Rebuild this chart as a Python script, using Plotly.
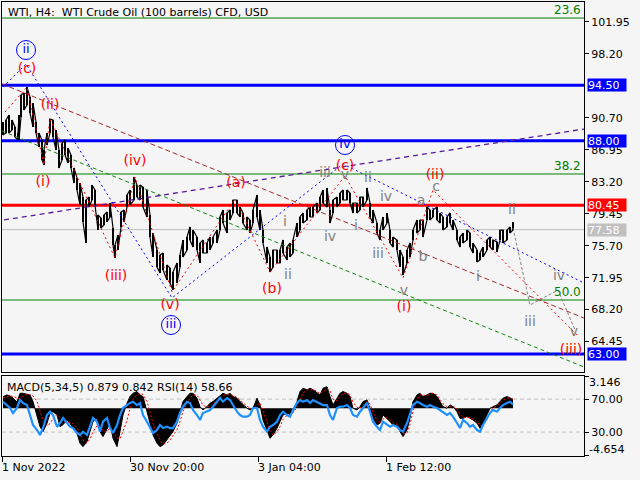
import plotly.graph_objects as go

# ---------------- data ----------------
price_x = [1,4,7,10,13,16,17,19,22,25,28,31,34,37,40,42,45,48,51,54,57,60,63,66,69,72,75,78,81,84,
           87,90,93,96,99,102,105,108,111,113,116,119,122,125,128,132,135,138,141,145,148,151,155,158,161,165,168,171,175,178,
           181,185,188,191,195,198,201,205,208,211,215,218,221,225,228,231,235,238,241,245,248,251,255,258,261,265,268,271,275,278,
           281,285,288,291,295,298,301,305,308,311,315,318,321,325,328,331,335,338,341,345,348,351,355,358,361,365,368,371,375,378,
           381,385,388,391,395,398,401,405,408,411,415,418,421,425,428,431,435,438,441,445,448,451,455,458,461,465,468,471,475,478,
           481,485,488,491,495,498,501,505,508,511]
price_hi = [90.19,90.43,91.01,90.43,89.61,88.90,91.01,93.36,93.59,94.29,93.12,92.42,90.19,88.90,88.08,86.91,88.90,90.54,90.43,89.25,
            86.91,87.73,88.08,87.14,86.32,84.80,83.63,83.04,81.40,81.05,81.40,82.81,82.22,79.29,78.94,79.29,79.64,80.70,77.77,75.78,
            76.95,79.64,79.88,81.64,82.22,83.75,82.81,82.81,82.57,82.22,79.29,77.18,75.19,74.61,74.84,73.43,73.08,72.61,73.67,74.61,
            76.36,76.71,77.89,77.53,76.71,76.01,76.36,76.01,76.71,76.71,77.53,79.06,79.88,79.53,79.88,81.05,81.05,80.23,79.53,79.06,
            78.71,79.88,81.64,79.88,77.53,75.54,74.37,75.19,75.19,75.19,76.36,75.54,76.01,76.36,78.35,79.06,79.53,79.88,80.23,80.23,
            80.70,81.40,82.22,82.46,79.88,81.05,81.40,81.87,82.22,82.22,81.87,80.70,80.70,81.40,81.40,82.46,80.70,79.88,78.35,77.53,
            79.06,79.53,77.53,76.71,76.36,75.19,74.37,75.19,76.01,77.53,78.71,78.71,78.71,80.23,79.88,79.88,80.23,79.53,79.06,79.06,
            79.53,78.71,77.53,76.71,77.18,77.53,77.18,76.01,75.19,74.84,75.54,76.36,76.71,76.36,76.13,77.53,77.53,77.53,77.89,78.47]
price_lo = [88.67,88.90,88.90,89.25,88.43,88.08,88.08,90.78,91.60,92.19,91.25,89.61,88.90,87.26,85.74,85.15,87.50,88.90,88.43,86.91,
            84.80,85.74,86.32,85.39,84.80,83.04,82.22,80.47,78.47,76.01,80.23,81.05,80.47,77.53,77.77,78.12,78.47,79.06,75.78,74.25,
            75.19,77.89,78.47,80.23,80.47,81.05,81.40,81.05,80.23,79.06,76.71,74.37,73.20,72.49,72.85,71.67,71.32,70.50,71.32,73.20,
            74.37,75.19,76.36,75.54,75.19,73.67,74.84,74.84,75.19,76.01,76.01,77.53,78.35,77.18,78.71,79.53,79.53,79.06,78.35,77.53,
            77.18,78.35,79.06,77.53,76.01,73.67,72.61,73.20,73.67,73.67,74.84,74.02,74.37,74.84,76.71,77.53,78.35,78.71,79.06,79.06,
            79.53,79.88,80.70,80.23,78.35,79.53,80.23,80.70,81.05,81.05,80.70,79.53,79.53,79.88,80.23,81.05,79.06,78.35,77.18,76.36,
            77.53,78.35,76.01,75.54,75.19,73.20,72.26,73.67,74.37,76.36,77.18,77.53,76.71,78.71,78.71,79.06,78.71,78.35,77.53,77.89,
            78.35,77.53,76.36,75.54,76.01,76.36,75.54,74.84,73.78,74.02,74.37,75.19,75.54,75.19,74.96,76.36,76.01,76.36,77.18,77.53]

ind_x = [1,5,8,11,15,18,21,25,28,31,35,38,41,45,48,51,55,58,61,65,68,71,75,78,81,85,88,91,95,98,
         101,105,108,111,115,118,121,125,128,131,135,138,141,145,148,151,155,158,161,165,168,171,175,178,181,185,188,191,195,198,
         201,205,208,211,215,218,221,225,228,231,235,238,241,245,248,251,255,258,261,265,268,271,275,278,281,285,288,291,295,298,
         301,305,308,311,315,318,321,325,328,331,335,338,341,345,348,351,355,358,361,365,368,371,375,378,381,385,388,391,395,398,
         401,405,408,411,415,418,421,425,428,431,435,438,441,445,448,451,455,458,461,465,468,471,475,478,481,485,488,491,495,498,
         501,505,508,511]
macd_hist = [1.13,1.3,1.2,1.0,0.6,1.46,1.46,1.4,1.3,0.65,
             -0.65,-1.8,-2.28,-1.46,-0.5,-0.33,-0.65,-1.8,-1.6,-1.14,
             -1.46,-1.95,-2.44,-3.41,-3.74,-3.25,-2.28,-1.3,-0.98,-2.28,
             -2.76,-1.95,-1.46,-2.93,-3.74,-2.28,-0.65,0.49,1.14,1.46,
             1.63,1.3,1.14,-0.33,-1.63,-2.6,-3.41,-3.74,-3.58,-3.09,
             -2.76,-2.28,-1.46,-0.33,0.65,1.14,1.46,1.46,0.98,0.16,
             -0.16,0.16,0.49,0.65,0.98,1.3,1.46,1.3,1.46,1.14,
             0.98,0.65,0.33,0.0,-0.16,0.0,0.98,0.33,-1.14,-2.28,
             -2.93,-2.6,-1.95,-1.3,-0.65,-0.5,-0.5,-0.33,0.65,1.63,
             1.95,1.8,1.95,1.8,1.46,
             1.3,1.95,2.1,1.14,0.33,0.98,1.46,1.63,1.46,1.14,
             0.0,-0.16,0.16,0.65,0.81,0.0,-0.98,-1.63,-1.46,-0.65,
             -0.98,-1.3,-1.63,-1.63,-2.28,-2.76,-2.11,-0.98,0.65,1.3,
             1.46,1.14,1.3,1.46,1.46,1.14,0.65,0.16,0.0,0.33,
             0.16,-0.33,-0.98,-0.98,-0.81,-0.98,-1.14,-1.46,-1.95,-1.46,
             -0.65,0.0,0.16,0.33,0.65,0.98,1.14,0.98,0.879]
macd_signal = [1.0,1.1,1.2,1.15,1.0,0.9,1.2,1.35,1.35,1.2,
               0.7,-0.2,-1.2,-1.7,-1.5,-1.0,-0.6,-0.9,-1.3,-1.4,
               -1.35,-1.5,-1.9,-2.5,-3.1,-3.4,-3.0,-2.3,-1.7,-1.8,
               -2.2,-2.3,-1.9,-2.2,-2.9,-3.0,-2.3,-1.2,0.0,0.9,
               1.3,1.45,1.35,0.7,-0.4,-1.5,-2.4,-3.1,-3.5,-3.4,
               -3.1,-2.7,-2.1,-1.3,-0.3,0.5,1.0,1.3,1.3,0.8,
               0.3,0.1,0.2,0.45,0.7,1.0,1.25,1.35,1.35,1.25,
               1.05,0.8,0.5,0.2,0.0,-0.05,0.3,0.5,-0.2,-1.3,
               -2.2,-2.6,-2.3,-1.8,-1.1,-0.7,-0.55,-0.45,0.1,0.9,
               1.5,1.75,1.85,1.85,1.65,
               1.4,1.6,1.95,1.7,0.9,0.7,1.1,1.45,1.5,1.3,
               0.6,0.1,0.0,0.35,0.65,0.45,-0.4,-1.2,-1.45,-1.05,
               -0.9,-1.1,-1.4,-1.55,-1.9,-2.45,-2.4,-1.6,-0.3,0.8,
               1.3,1.3,1.25,1.35,1.45,1.3,0.9,0.45,0.15,0.15,
               0.2,-0.05,-0.6,-0.9,-0.9,-0.9,-1.05,-1.3,-1.7,-1.65,
               -1.05,-0.35,0.05,0.25,0.5,0.8,1.0,1.0,0.842]
rsi = [66.8,62.8,59.2,53.1,59.2,68.9,65.3,62.8,50.7,38.6,
       32.5,26.5,34.9,50.7,54.7,50.7,36.5,41.0,47.1,41.0,
       36.5,34.9,28.9,26.5,30.5,26.5,36.5,47.1,42.6,30.5,
       42.6,47.1,34.9,28.9,38.6,50.7,59.2,62.8,65.3,66.8,
       62.8,65.3,50.7,42.6,36.5,28.9,32.5,38.6,34.9,36.5,
       34.9,34.9,42.6,53.1,60.8,66.8,65.3,56.8,50.7,44.7,
       53.1,54.7,56.8,60.8,66.8,71.3,66.8,71.3,68.9,62.8,
       54.7,50.7,48.7,48.7,50.7,59.2,59.2,44.7,36.5,30.5,
       36.5,38.6,42.6,50.7,54.7,50.7,48.7,56.8,65.3,68.9,
       66.8,68.9,65.3,68.9,66.8,
       65.3,62.8,62.8,50.7,44.7,59.2,60.8,60.8,62.8,59.2,
       50.7,48.7,54.7,59.2,65.3,54.7,42.6,36.5,32.5,42.6,
       38.6,36.5,38.6,36.5,32.5,30.5,41.0,50.7,62.8,66.8,
       65.3,62.8,60.8,62.8,60.8,59.2,56.8,54.7,50.7,53.1,
       48.7,41.0,34.9,44.7,41.0,36.5,38.6,32.5,30.5,38.6,
       47.1,53.1,56.8,54.7,59.2,62.8,65.3,66.8,63.5]

date_ticks = [0, 128, 256, 384]
date_labels = ["1 Nov 2022", "30 Nov 20:00", "3 Jan 04:00", "1 Feb 12:00"]
price_ticks = [101.95, 98.20, 90.70, 86.95, 83.20, 79.45, 75.70, 71.95, 68.20, 64.45]
blue_levels = [94.50, 88.00, 63.00]
red_levels = [80.45]
last_price = 77.58
fib_levels = [102.38, 84.10, 69.33]
fib_names = ["23.6", "38.2", "50.0"]

# wave drawings (bar index, price)
blue_wave_x = [1, 24, 170, 341, 582]
blue_wave_y = [94.29, 96.99, 69.57, 85.27, 71.32]
red_wave_x = [3, 25, 42, 48, 113, 133, 170, 233, 268, 343, 401, 431, 575]
red_wave_y = [91.36, 94.29, 85.15, 90.54, 74.25, 83.75, 70.27, 81.17, 72.61, 83.87, 71.91, 82.22, 65.23]
gray_wave_x = [511, 528, 556, 573]
gray_wave_y = [77.77, 68.74, 70.50, 65.81]
brown_line_x = [0, 582]
brown_line_y = [94.65, 67.22]
green_line_x = [0, 582]
green_line_y = [89.14, 61.48]
purple_line_x = [2, 582]
purple_line_y = [78.71, 89.37]

circle_labels = [("ii", 24, 98.63), ("iii", 169, 66.40), ("iv", 343, 87.50)]
red_labels = [("(c)", 25, 96.40), ("(ii)", 48, 92.18), ("(i)", 41, 83.16), ("(iv)", 133, 85.62),
              ("(iii)", 114, 72.14), ("(v)", 168, 68.63), ("(a)", 234, 82.93), ("(b)", 270, 70.62),
              ("(c)", 343, 85.03), ("(i)", 402, 68.51), ("(ii)", 433, 83.98), ("(iii)", 569, 63.47)]
gray_labels = [("i", 283, 78.47), ("ii", 286, 72.26), ("iii", 323, 84.21), ("v", 343, 83.98),
               ("ii", 366, 83.63), ("iv", 328, 76.60), ("i", 354, 77.89), ("iv", 384, 81.29),
               ("iii", 376, 74.72), ("v", 402, 70.27), ("a", 419, 80.82), ("b", 421, 74.37),
               ("c", 434, 82.57), ("ii", 510, 79.88), ("i", 476, 71.91), ("iv", 557, 72.14),
               ("iii", 528, 66.64), ("v", 572, 65.47)]

FONT = "DejaVu Sans"
BG = "#f5f5f5"

fig = go.Figure()

# price bars (high-low range per sample) plus a jagged path through the same highs and lows
fig.add_trace(go.Bar(x=price_x, y=[h - l for h, l in zip(price_hi, price_lo)], base=price_lo,
                     width=1.8, marker=dict(color="black", line=dict(width=0)),
                     xaxis="x", yaxis="y", hoverinfo="skip"))
path_x, path_y = [], []
for i, (xv, h, l) in enumerate(zip(price_x, price_hi, price_lo)):
    path_x += [xv, xv]
    path_y += ([h, l] if i % 2 == 0 else [l, h])
fig.add_trace(go.Scatter(x=path_x, y=path_y, mode="lines", line=dict(color="black", width=1.2),
                         xaxis="x", yaxis="y", hoverinfo="skip"))

def line(xs, ys, color, dash, width=1):
    fig.add_trace(go.Scatter(x=xs, y=ys, mode="lines", line=dict(color=color, dash=dash, width=width),
                             xaxis="x", yaxis="y", hoverinfo="skip", cliponaxis=True))

line(green_line_x, green_line_y, "#118811", "4px,3px")
line(brown_line_x, brown_line_y, "#a3282a", "5px,3px")
line(purple_line_x, purple_line_y, "#5a1a9a", "5px,4px", 1.3)
line(blue_wave_x, blue_wave_y, "#0000ff", "2px,3px")
line(red_wave_x, red_wave_y, "#ff0000", "2px,3px")
line(gray_wave_x, gray_wave_y, "#808080", "3px,2px")

# labels
fig.add_trace(go.Scatter(x=[c[1] for c in circle_labels], y=[c[2] for c in circle_labels],
                         text=[c[0] for c in circle_labels], mode="markers+text",
                         marker=dict(symbol="circle-open", size=19, color="#0000ff", line=dict(width=1, color="#0000ff")),
                         textfont=dict(family=FONT, size=13, color="#0000ff"), textposition="middle center",
                         xaxis="x", yaxis="y", hoverinfo="skip"))
fig.add_trace(go.Scatter(x=[c[1] for c in red_labels], y=[c[2] for c in red_labels],
                         text=[c[0] for c in red_labels], mode="text",
                         textfont=dict(family=FONT, size=14, color="#ff0000"), textposition="middle center",
                         xaxis="x", yaxis="y", hoverinfo="skip"))
fig.add_trace(go.Scatter(x=[c[1] for c in gray_labels], y=[c[2] for c in gray_labels],
                         text=[c[0] for c in gray_labels], mode="text",
                         textfont=dict(family=FONT, size=14, color="#7f7f7f"), textposition="middle center",
                         xaxis="x", yaxis="y", hoverinfo="skip"))

# indicator window
fig.add_trace(go.Scatter(x=ind_x, y=macd_hist, mode="lines", fill="tozeroy", fillcolor="black",
                         line=dict(color="black", width=1), xaxis="x2", yaxis="y2", hoverinfo="skip"))
fig.add_trace(go.Scatter(x=ind_x, y=macd_signal, mode="lines", line=dict(color="#ff0000", width=1, dash="2px,2px"),
                         xaxis="x2", yaxis="y2", hoverinfo="skip"))
fig.add_trace(go.Scatter(x=ind_x, y=rsi, mode="lines", line=dict(color="#1e90ff", width=2.2),
                         xaxis="x2", yaxis="y3", hoverinfo="skip"))

shapes = []
for v in fib_levels:
    shapes.append(dict(type="line", xref="paper", x0=0, x1=1, yref="y", y0=v, y1=v,
                       line=dict(color="#008000", width=1), layer="below"))
shapes.append(dict(type="line", xref="paper", x0=0, x1=1, yref="y", y0=last_price, y1=last_price,
                   line=dict(color="#c0c0c0", width=1), layer="below"))
for v in blue_levels:
    shapes.append(dict(type="line", xref="paper", x0=0, x1=1, yref="y", y0=v, y1=v,
                       line=dict(color="#0000ff", width=3), layer="below"))
for v in red_levels:
    shapes.append(dict(type="line", xref="paper", x0=0, x1=1, yref="y", y0=v, y1=v,
                       line=dict(color="#ff0000", width=3), layer="below"))
for v in [70, 30]:
    shapes.append(dict(type="line", xref="paper", x0=0, x1=1, yref="y3", y0=v, y1=v,
                       line=dict(color="#c0c0c0", width=1, dash="4px,3px"), layer="below"))

annotations = []
annotations.append(dict(text="WTI, H4:\u00a0 WTI Crude Oil (100 barrels) CFD, USD", xref="paper", yref="paper",
                        x=0, y=1, xanchor="left", yanchor="top", xshift=4, yshift=-2, showarrow=False,
                        font=dict(family=FONT, size=11, color="black")))
annotations.append(dict(text="MACD(5,34,5) 0.879 0.842 RSI(14) 58.66", xref="paper", yref="y2",
                        x=0, y=3.146, xanchor="left", yanchor="top", xshift=3, yshift=-3, showarrow=False,
                        font=dict(family=FONT, size=11, color="black")))
for v, n in zip(fib_levels, fib_names):
    annotations.append(dict(text=n, xref="paper", yref="y", x=1, y=v, xanchor="right", yanchor="bottom",
                            xshift=-1, yshift=-1, showarrow=False, font=dict(family=FONT, size=12, color="#008000")))
for v, bg in [(blue_levels[0], "#0000ff"), (blue_levels[1], "#0000ff"), (red_levels[0], "#ff0000"),
              (last_price, "#c0c0c0"), (blue_levels[2], "#0000ff")]:
    annotations.append(dict(text="%.2f" % v, xref="paper", yref="y", x=1, y=v, xanchor="left", yanchor="middle",
                            xshift=3, showarrow=False, bgcolor=bg, borderpad=0, width=38, height=12, align="left",
                            font=dict(family=FONT, size=11, color="white")))
annotations.append(dict(text="3.146", xref="paper", yref="y2", x=1, y=3.146, xanchor="left", yanchor="top",
                        xshift=3, yshift=2, showarrow=False, font=dict(family=FONT, size=11, color="black")))
annotations.append(dict(text="-4.654", xref="paper", yref="y2", x=1, y=-4.654, xanchor="left", yanchor="bottom",
                        xshift=3, yshift=-2, showarrow=False, font=dict(family=FONT, size=11, color="black")))
for t, lab in zip(date_ticks, date_labels):
    annotations.append(dict(text=lab, xref="x2", yref="paper", x=t, y=0, xanchor="left", yanchor="top",
                            xshift=-2, yshift=-3, showarrow=False, font=dict(family=FONT, size=11, color="black")))

axis_common = dict(showgrid=False, zeroline=False, showline=True, linecolor="black", linewidth=1, mirror=True)

fig.update_layout(
    width=640, height=480,
    margin=dict(l=2, r=56, t=2, b=24),
    paper_bgcolor=BG, plot_bgcolor=BG,
    showlegend=False, hovermode=False,
    bargap=0,
    xaxis=dict(domain=[0, 1], range=[0, 582], anchor="y", showticklabels=False, ticks="", **axis_common),
    yaxis=dict(domain=[0.185, 1], range=[60.89, 104.26], anchor="x", side="right",
               tickvals=price_ticks, ticktext=["%.2f" % v for v in price_ticks], ticks="outside", ticklen=4,
               tickcolor="black", tickfont=dict(family=FONT, size=11, color="black"), **axis_common),
    xaxis2=dict(domain=[0, 1], range=[0, 582], anchor="y2", tickvals=date_ticks, ticktext=["" for _ in date_ticks],
                ticks="outside", ticklen=5, tickcolor="black", **axis_common),
    yaxis2=dict(domain=[0, 0.1762], range=[-4.654, 3.146], anchor="x2", side="right",
                tickvals=[3.146, -4.654], ticktext=["", ""], ticks="outside", ticklen=4, tickcolor="black",
                **axis_common),
    yaxis3=dict(overlaying="y2", range=[1, 98], anchor="x2", side="right", tickvals=[70, 30],
                ticktext=["70.00", "30.00"], ticks="outside", ticklen=4, tickcolor="black",
                tickfont=dict(family=FONT, size=11, color="black"), showgrid=False, zeroline=False, showline=False),
    shapes=shapes, annotations=annotations,
)

fig.write_html("out.html", config={"displayModeBar": False},
               post_script="document.body.style.margin='0';document.body.style.background='%s';" % BG)
